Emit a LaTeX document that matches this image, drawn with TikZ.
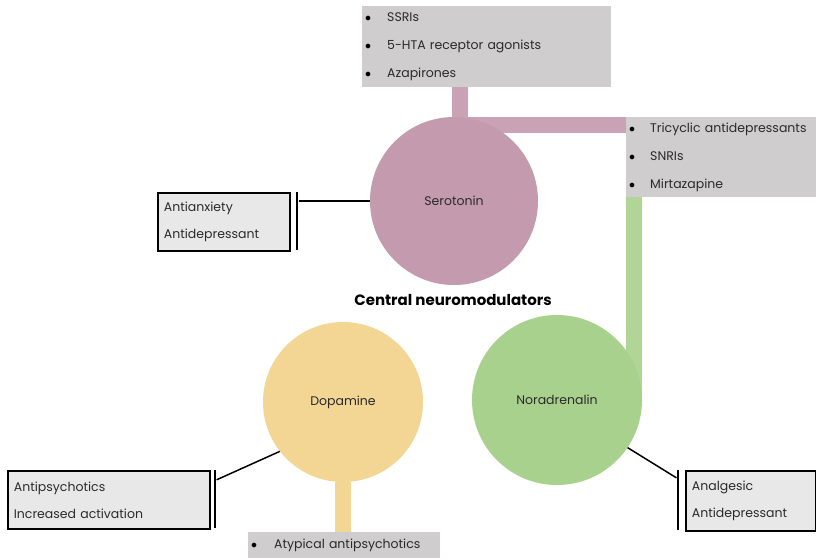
\documentclass[tikz,border=0pt]{standalone}
\usepackage{fontspec}
\setmainfont{Poppins}
\definecolor{serpink}{HTML}{C49AAF}
\definecolor{dopyellow}{HTML}{F3D594}
\definecolor{norgreen}{HTML}{A9D18E}
\definecolor{listgray}{HTML}{CFCDCD}
\definecolor{effgray}{HTML}{E9E8E8}
\definecolor{inkgray}{HTML}{2A2A2A}
\tikzset{
  hub/.style={circle, inner sep=0pt, text=inkgray, font=\fontsize{12.5}{14}\selectfont},
  listbox/.style={fill=listgray, anchor=north west, align=left, inner sep=0pt,
    text=inkgray, font=\fontsize{12.5}{28}\selectfont},
  effectbox/.style={draw=black, line width=1.8pt, fill=effgray, anchor=north west,
    align=left, inner sep=0pt, text=inkgray, font=\fontsize{12.5}{27}\selectfont},
  blocker/.style={fill=black, minimum width=2.8pt, inner sep=0pt},
  link/.style={line width=1.5pt},
  pipe/.style={line width=16pt, opacity=.92}
}
\newcommand{\itm}[2][22pt]{\hspace*{3pt}\makebox[#1][l]{\color{black}$\bullet$}#2}
\begin{document}
\begin{tikzpicture}[x=1pt,y=-1pt]
  \path[use as bounding box] (0,0) rectangle (816,558);
  % neuromodulators
  \node[hub, fill=serpink, minimum size=168pt] (ser) at (454,201) {Serotonin};
  \node[hub, fill=dopyellow, minimum size=160pt] (dop) at (343,402) {Dopamine};
  \node[hub, fill=norgreen, minimum size=170pt] (nor) at (557,400) {Noradrenalin};
  \node[font=\bfseries\fontsize{15}{17}\selectfont, text=black] (title) at (453,300) {Central neuromodulators};
  % drug lists
  \node[listbox, text width=249pt, minimum height=81pt] (serdrugs) at (362,6)
    {\itm{SSRIs}\\\itm{5-HTA receptor agonists}\\\itm{Azapirones}};
  \node[listbox, text width=190pt, minimum height=80pt] (nordrugs) at (626,117)
    {\itm[21pt]{Tricyclic antidepressants}\\\itm[21pt]{SNRIs}\\\itm[21pt]{Mirtazapine}};
  \node[listbox, text width=192pt, minimum height=26pt] (dopdrugs) at (248,532)
    {\itm[23pt]{Atypical antipsychotics}};
  % effects
  \node[effectbox, text width=132pt, minimum height=58pt] (sereff) at (157,192)
    {\hspace*{6pt}Antianxiety\\\hspace*{6pt}Antidepressant};
  \node[effectbox, text width=202pt, minimum height=58pt] (dopeff) at (7,470)
    {\hspace*{6pt}Antipsychotics\\\hspace*{6pt}Increased activation};
  \node[effectbox, text width=130pt, minimum height=60pt] (noreff) at (685,470)
    {\hspace*{6pt}Analgesic\\\hspace*{6pt}Antidepressant};
  \node[blocker, minimum height=58pt] (serbar) at (297,221) {};
  \node[blocker, minimum height=58pt] (dopbar) at (215,499) {};
  \node[blocker, minimum height=60pt] (norbar) at (678,500) {};
  % pipes
  \draw[pipe, serpink] ([xshift=98pt]serdrugs.south west) |- ([yshift=-8pt]nordrugs.north west);
  \draw[pipe, norgreen] ([xshift=8pt]nordrugs.south west) -- ([xshift=8pt,yshift=-3pt]nordrugs.south west |- nor.center);
  \draw[line width=16pt, dopyellow] (dop.south) -- (dop.south |- dopdrugs.north);
  % links
  \draw[link] (ser.west) -- (ser.west -| serbar.east);
  \draw[link] (dop.218) -- ([yshift=-10pt]dopbar.north east);
  \draw[link] (nor.-34) -- ([yshift=-8pt]norbar.north west);
\end{tikzpicture}
\end{document}
